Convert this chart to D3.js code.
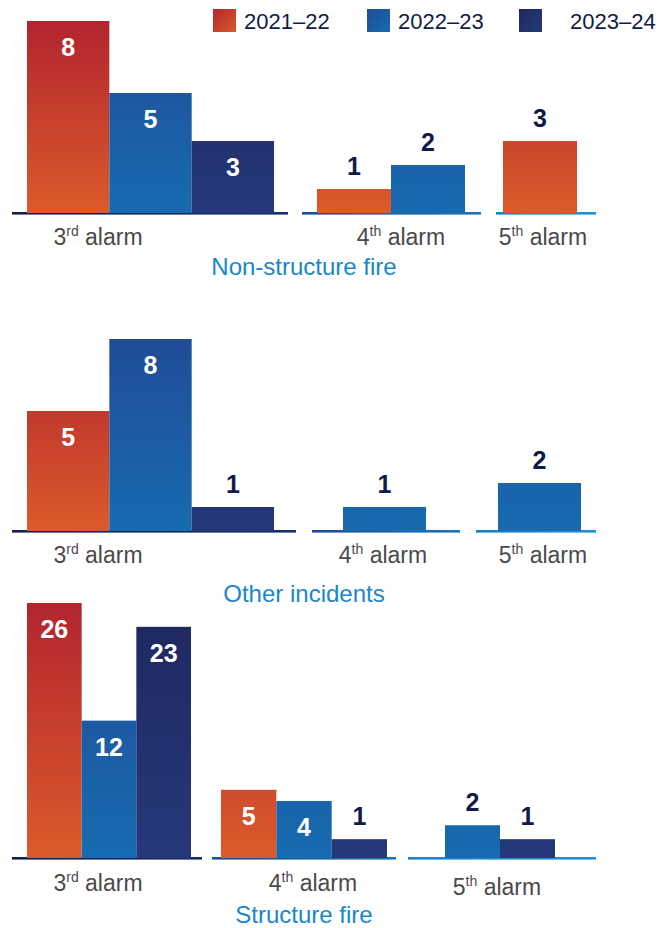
<!DOCTYPE html>
<html>
<head>
<meta charset="utf-8">
<script src="https://cdn.jsdelivr.net/npm/d3@7/dist/d3.min.js"></script>
<style>
  html, body { margin: 0; padding: 0; background: #ffffff; }
  svg { display: block; font-family: "Liberation Sans", Arial, Helvetica, sans-serif; }
</style>
</head>
<body>
<svg id="chart" width="672" height="928"></svg>
<script>
// ---------- data ----------
const categories = ["3rd alarm", "4th alarm", "5th alarm"];
const seriesNames = ["2021–22", "2022–23", "2023–24"];
const panelTitles = ["Non-structure fire", "Other incidents", "Structure fire"];
// values per category, in series order (null = no bar)
const nonStructureFire = [[8, 5, 3], [1, 2, null], [3, null, null]];
const otherIncidents   = [[5, 8, 1], [null, 1, null], [null, 2, null]];
const structureFire    = [[26, 12, 23], [5, 4, 1], [null, 2, 1]];

// ---------- layout / style ----------
const seriesGrad = [
  ["#b2252f", "#dc5a2a"],
  ["#204c97", "#176bb0"],
  ["#1f285e", "#25387b"]
];
const lineGrad = [
  ["#13214f", "#14306a"],
  ["#1a4e94", "#1a74ba"],
  ["#1b82c9", "#2192d8"]
];
const panels = [
  { values: nonStructureFire, base: 213, top: 21, exponent: 1, labelY: [245, 245, 245], titleY: 275,
    groups: [ { bars: [27, 274], line: [12, 288], label: 98 },
              { bars: [317, 465], line: [302, 481], label: 401 },
              { bars: [503, 577], line: [496, 596], label: 543 } ] },
  { values: otherIncidents, base: 531, top: 339, exponent: 1, labelY: [563, 563, 563], titleY: 602,
    groups: [ { bars: [27, 274], line: [12, 296], label: 98 },
              { bars: [343, 426], line: [312, 460], label: 383 },
              { bars: [498, 581], line: [476, 596], label: 543 } ] },
  { values: structureFire, base: 858, top: 603, exponent: 0.8, labelY: [891, 891, 895], titleY: 923,
    groups: [ { bars: [27, 191], line: [12, 202], label: 98 },
              { bars: [221, 387], line: [212, 396], label: 313 },
              { bars: [445, 555], line: [408, 596], label: 497 } ] }
];

const svg = d3.select("#chart");
const defs = svg.append("defs");

// legend swatch gradients (bounding box)
seriesNames.forEach((s, i) => {
  const g = defs.append("linearGradient").attr("id", "leg" + i)
    .attr("x1", 0).attr("y1", 0).attr("x2", 1).attr("y2", 1);
  g.append("stop").attr("offset", "0%").attr("stop-color", seriesGrad[i][0]);
  g.append("stop").attr("offset", "100%").attr("stop-color", seriesGrad[i][1]);
});
// baseline gradients
lineGrad.forEach((c, i) => {
  const g = defs.append("linearGradient").attr("id", "line" + i)
    .attr("x1", 0).attr("y1", 0).attr("x2", 1).attr("y2", 0);
  g.append("stop").attr("offset", "0%").attr("stop-color", c[0]);
  g.append("stop").attr("offset", "100%").attr("stop-color", c[1]);
});

// ---------- legend ----------
const legendSwatchX = [213, 367, 519];
const legendTextX = [244, 398, 570];
const legend = svg.append("g");
seriesNames.forEach((s, i) => {
  legend.append("rect").attr("x", legendSwatchX[i]).attr("y", 9).attr("width", 23).attr("height", 23)
    .attr("fill", `url(#leg${i})`);
  legend.append("text").attr("x", legendTextX[i]).attr("y", 29)
    .attr("font-size", 22).attr("fill", "#0f1c4a").text(s);
});

// ---------- panels ----------
panels.forEach((p, pi) => {
  const y = d3.scalePow().exponent(p.exponent)
    .domain([0, d3.max(p.values.flat())])
    .range([p.base, p.top]);

  // per-panel vertical gradients for bars
  seriesNames.forEach((s, i) => {
    const g = defs.append("linearGradient").attr("id", `bar${pi}_${i}`)
      .attr("gradientUnits", "userSpaceOnUse")
      .attr("x1", 0).attr("x2", 0).attr("y1", p.top).attr("y2", p.base);
    g.append("stop").attr("offset", "0%").attr("stop-color", seriesGrad[i][0]);
    g.append("stop").attr("offset", "100%").attr("stop-color", seriesGrad[i][1]);
  });

  const gp = svg.append("g");

  categories.forEach((cat, ci) => {
    const grp = p.groups[ci];
    const present = seriesNames.filter((s, si) => p.values[ci][si] != null);
    const x = d3.scaleBand().domain(present).range(grp.bars).padding(0);

    // baseline
    gp.append("rect")
      .attr("x", grp.line[0]).attr("width", grp.line[1] - grp.line[0])
      .attr("y", p.base - 1).attr("height", 2.6)
      .attr("fill", `url(#line${ci})`);

    const data = present.map(s => ({ s, si: seriesNames.indexOf(s), v: p.values[ci][seriesNames.indexOf(s)] }));
    const isInside = d => present.length === 3 && (p.base - y(d.v)) >= 50;

    gp.selectAll(null).data(data).enter().append("rect")
      .attr("x", d => x(d.s))
      .attr("width", x.bandwidth())
      .attr("y", d => y(d.v))
      .attr("height", d => p.base - y(d.v))
      .attr("fill", d => `url(#bar${pi}_${d.si})`);

    gp.selectAll(null).data(data).enter().append("text")
      .attr("x", d => x(d.s) + x.bandwidth() / 2)
      .attr("y", d => isInside(d) ? y(d.v) + 35 : y(d.v) - 14)
      .attr("text-anchor", "middle")
      .attr("font-size", 25).attr("font-weight", "bold")
      .attr("fill", d => isInside(d) ? "#ffffff" : "#0f1c4a")
      .text(d => d.v);

    // category label with superscript ordinal
    const m = cat.match(/^(\d)(\w+) (.*)$/);
    const t = gp.append("text")
      .attr("x", grp.label).attr("y", p.labelY[ci])
      .attr("text-anchor", "middle")
      .attr("font-size", 23).attr("fill", "#4a4a4a");
    t.append("tspan").text(m[1]);
    t.append("tspan").attr("font-size", 14).attr("dy", -9).text(m[2]);
    t.append("tspan").attr("dy", 9).text(" " + m[3]);
  });

  gp.append("text")
    .attr("x", 304).attr("y", p.titleY)
    .attr("text-anchor", "middle")
    .attr("font-size", 24).attr("fill", "#1a87cc")
    .text(panelTitles[pi]);
});
</script>
</body>
</html>
